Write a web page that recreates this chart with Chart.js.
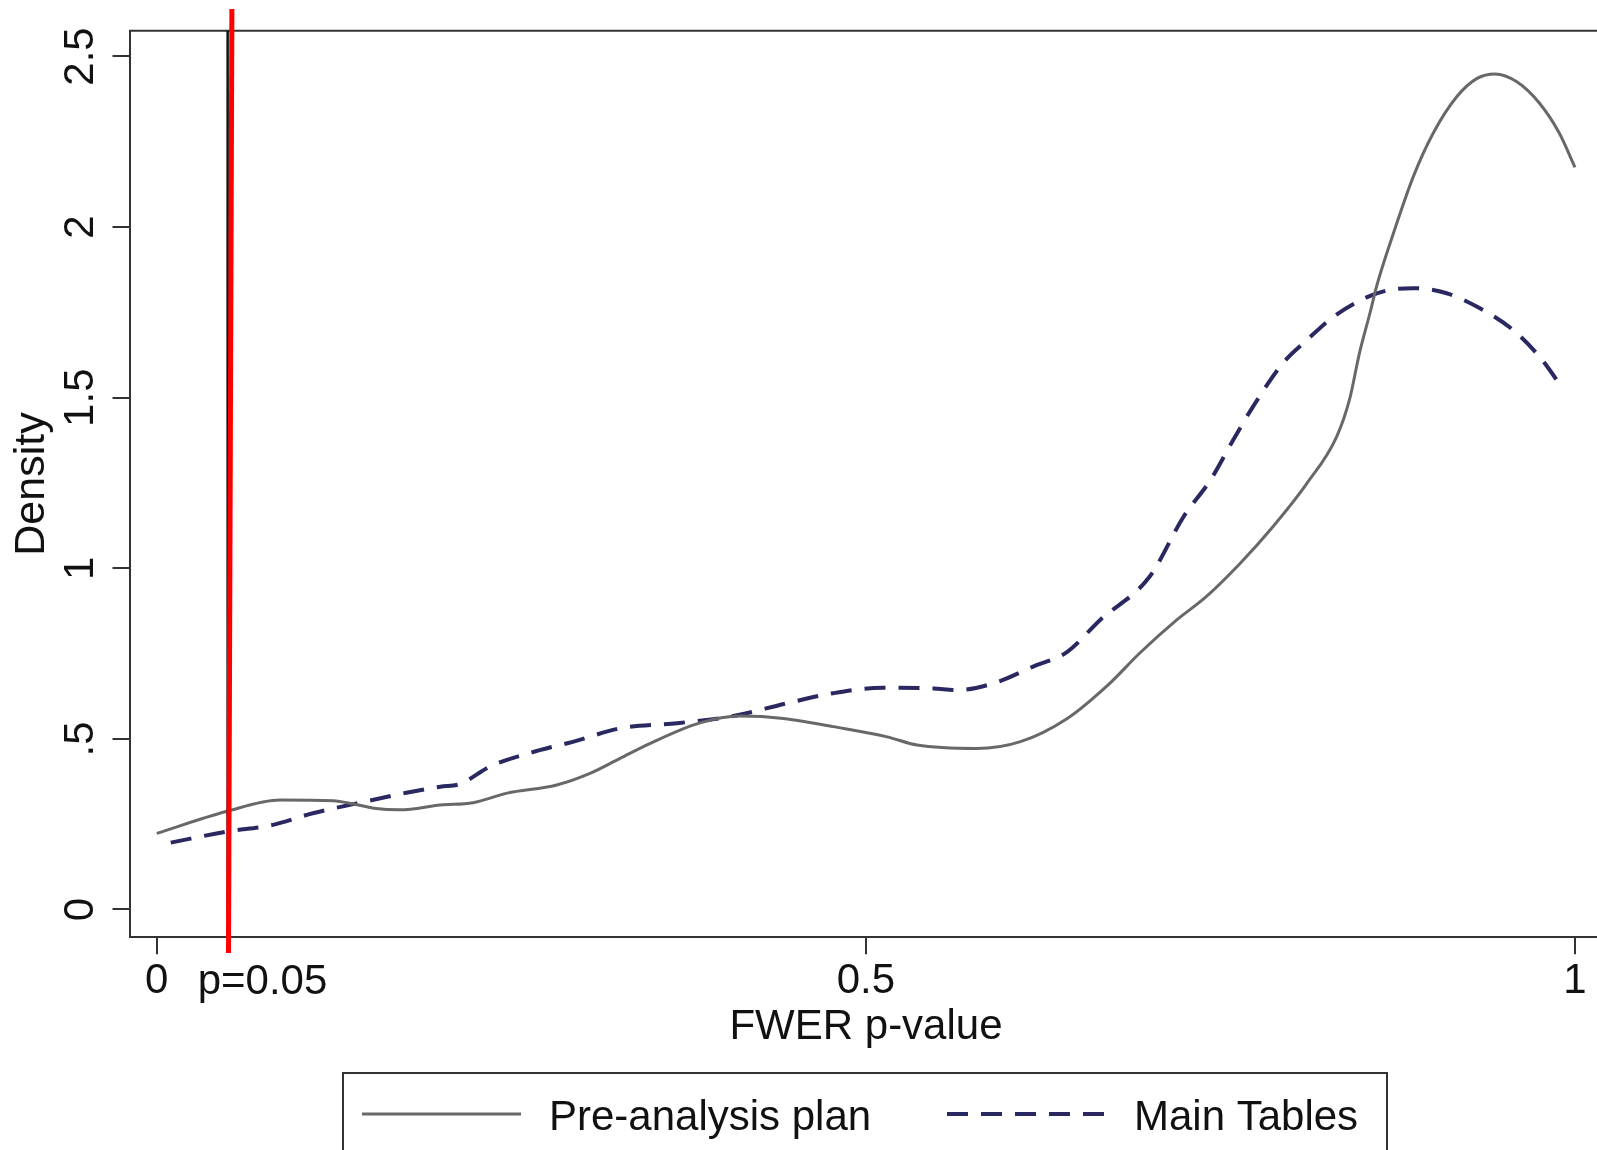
<!DOCTYPE html>
<html>
<head>
<meta charset="utf-8">
<script src="https://cdn.jsdelivr.net/npm/chart.js@4.4.1/dist/chart.umd.min.js"></script>
<style>
  html, body { margin: 0; padding: 0; background: #fff; overflow: hidden; }
  canvas { display: block; }
</style>
</head>
<body>
<canvas id="densityChart" width="1640" height="1150"></canvas>
<script>
// kernel density of FWER p-values
const planX = [0, 0.049, 0.087, 0.1245, 0.139, 0.153, 0.1715, 0.2, 0.223, 0.247, 0.282, 0.3055,
  0.3267, 0.348, 0.383, 0.411, 0.442, 0.477, 0.515, 0.536, 0.578, 0.609, 0.642, 0.672, 0.693,
  0.719, 0.740, 0.764, 0.787, 0.811, 0.832, 0.841, 0.848, 0.856, 0.860, 0.872, 0.886, 0.900,
  0.9166, 0.931, 0.9436, 0.959, 0.975, 0.989, 1.0];
const planY = [0.223, 0.287, 0.321, 0.319, 0.309, 0.297, 0.292, 0.306, 0.313, 0.341, 0.365, 0.399,
  0.443, 0.487, 0.547, 0.567, 0.560, 0.536, 0.506, 0.482, 0.472, 0.492, 0.560, 0.663, 0.751,
  0.848, 0.917, 1.015, 1.122, 1.249, 1.386, 1.494, 1.630, 1.757, 1.825, 1.982, 2.148, 2.275,
  2.382, 2.436, 2.449, 2.426, 2.363, 2.275, 2.175];

const tablesX = [0.0099, 0.049, 0.082, 0.110, 0.141, 0.176, 0.200, 0.214, 0.235, 0.270, 0.294,
  0.3267, 0.367, 0.4065, 0.444, 0.477, 0.512, 0.5476, 0.564, 0.590, 0.618, 0.642, 0.665, 0.700,
  0.724, 0.743, 0.759, 0.773, 0.794, 0.811, 0.8296, 0.853, 0.8696, 0.886, 0.9095, 0.933, 0.9565,
  0.975, 0.9906];
const tablesY = [0.196, 0.228, 0.248, 0.282, 0.311, 0.342, 0.360, 0.368, 0.419, 0.467, 0.492,
  0.531, 0.546, 0.567, 0.604, 0.634, 0.650, 0.648, 0.643, 0.663, 0.712, 0.755, 0.848, 0.975,
  1.151, 1.259, 1.376, 1.474, 1.601, 1.669, 1.737, 1.794, 1.816, 1.821, 1.806, 1.762, 1.698,
  1.620, 1.532];

const seriesLabels = ['Pre-analysis plan', 'Main Tables'];

const xTickValues = [0, 0.5, 1];
const xTickLabels = ['0', '0.5', '1'];
const yTickValues = [0, 0.5, 1, 1.5, 2, 2.5];
const yTickLabels = ['0', '.5', '1', '1.5', '2', '2.5'];

const cutoff = 0.05;
const cutoffLabel = 'p=0.05';
// the hand-drawn red marker, slightly slanted (top, bottom)
const redLineX = [0.0530, 0.0506];
const redLineY = [2.639, -0.1275];

const FONT = '"Liberation Sans", Arial, Helvetica, sans-serif';
const INK = '#111';
const FRAME = '#333';

function toPoints(xs, ys) {
  return xs.map((v, i) => ({ x: v, y: ys[i] }));
}

const extras = {
  id: 'extras',
  afterDatasetsDraw(chart) {
    const { ctx, chartArea: a, scales: { x, y } } = chart;
    ctx.save();

    // top edge of the plot frame
    ctx.strokeStyle = FRAME;
    ctx.lineWidth = 2;
    ctx.beginPath();
    ctx.moveTo(a.left, a.top);
    ctx.lineTo(a.right, a.top);
    ctx.stroke();

    // xline at p = 0.05
    const cx = x.getPixelForValue(cutoff);
    ctx.strokeStyle = INK;
    ctx.lineWidth = 2.5;
    ctx.beginPath();
    ctx.moveTo(cx, a.top);
    ctx.lineTo(cx, a.bottom);
    ctx.stroke();

    // red marker on top
    ctx.strokeStyle = '#ff0000';
    ctx.lineWidth = 5;
    ctx.beginPath();
    ctx.moveTo(x.getPixelForValue(redLineX[0]), y.getPixelForValue(redLineY[0]));
    ctx.lineTo(x.getPixelForValue(redLineX[1]), y.getPixelForValue(redLineY[1]));
    ctx.stroke();

    // cutoff label next to the 0 tick
    ctx.fillStyle = INK;
    ctx.font = '42px ' + FONT;
    ctx.textAlign = 'left';
    ctx.textBaseline = 'alphabetic';
    ctx.fillText(cutoffLabel, cx - 30, a.bottom + 57);

    // legend box
    const top = 1073;
    ctx.strokeStyle = FRAME;
    ctx.lineWidth = 2;
    ctx.strokeRect(343, top, 1387 - 343, 200);
    const slots = [{ x0: 362, x1: 521, tx: 549 }, { x0: 947, x1: 1109, tx: 1134 }];
    chart.data.datasets.forEach((ds, i) => {
      const s = slots[i];
      ctx.strokeStyle = ds.borderColor;
      ctx.lineWidth = ds.borderWidth;
      ctx.setLineDash(ds.borderDash || []);
      ctx.beginPath();
      ctx.moveTo(s.x0, top + 41);
      ctx.lineTo(s.x1, top + 41);
      ctx.stroke();
      ctx.setLineDash([]);
      ctx.fillStyle = INK;
      ctx.fillText(ds.label, s.tx, top + 57);
    });
    ctx.restore();
  }
};

const ctx = document.getElementById('densityChart').getContext('2d');

new Chart(ctx, {
  type: 'line',
  data: {
    datasets: [
      {
        label: seriesLabels[0],
        data: toPoints(planX, planY),
        borderColor: '#686868',
        borderWidth: 3,
        cubicInterpolationMode: 'monotone',
        fill: false
      },
      {
        label: seriesLabels[1],
        data: toPoints(tablesX, tablesY),
        borderColor: '#2a2860',
        borderWidth: 4,
        borderDash: [21, 13],
        cubicInterpolationMode: 'monotone',
        fill: false
      }
    ]
  },
  options: {
    responsive: false,
    animation: false,
    devicePixelRatio: 1,
    layout: { padding: { left: 0, top: 30.7, right: 37.5, bottom: 0 } },
    elements: { point: { radius: 0 } },
    plugins: {
      legend: { display: false },
      tooltip: { enabled: false }
    },
    scales: {
      x: {
        type: 'linear',
        min: -0.0192,
        max: 1.0194,
        afterBuildTicks: s => { s.ticks = xTickValues.map(v => ({ value: v })); },
        afterFit: s => { s.height = 212.7; },
        ticks: {
          autoSkip: false,
          maxRotation: 0,
          padding: 2,
          color: INK,
          font: { family: FONT, size: 42 },
          callback: (v, i) => xTickLabels[i]
        },
        grid: { drawOnChartArea: false, drawTicks: true, tickLength: 17, color: FRAME, lineWidth: 2 },
        border: { display: true, color: FRAME, width: 2 },
        title: {
          display: true,
          text: 'FWER p-value',
          color: INK,
          font: { family: FONT, size: 42 },
          padding: { top: 0, bottom: 97 }
        }
      },
      y: {
        min: -0.0815,
        max: 2.5756,
        afterBuildTicks: s => { s.ticks = yTickValues.map(v => ({ value: v })); },
        afterFit: s => { s.width = 129.5; },
        ticks: {
          autoSkip: false,
          minRotation: 90,
          maxRotation: 90,
          crossAlign: 'center',
          padding: 2,
          color: INK,
          font: { family: FONT, size: 42 },
          callback: (v, i) => yTickLabels[i]
        },
        grid: { drawOnChartArea: false, drawTicks: true, tickLength: 17, color: FRAME, lineWidth: 2 },
        border: { display: true, color: FRAME, width: 2 },
        title: {
          display: true,
          text: 'Density',
          color: INK,
          font: { family: FONT, size: 43 },
          padding: { top: 6, bottom: 0 }
        }
      }
    }
  },
  plugins: [extras]
});
</script>
</body>
</html>
